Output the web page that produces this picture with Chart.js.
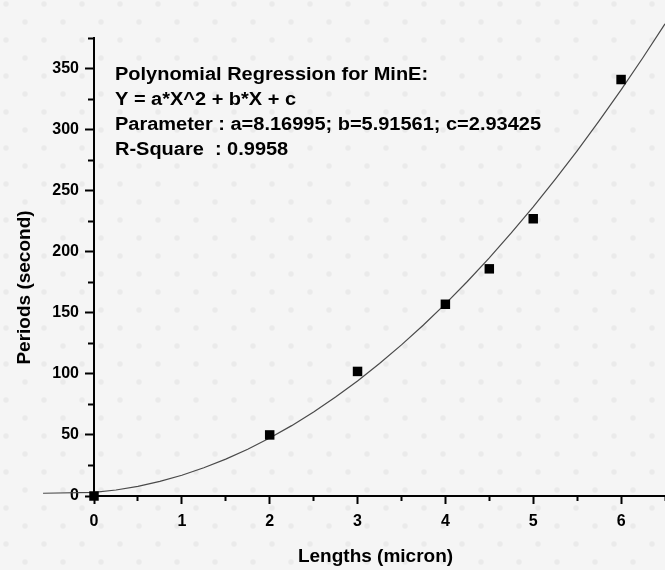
<!DOCTYPE html>
<html>
<head>
<meta charset="utf-8">
<script src="https://cdn.jsdelivr.net/npm/chart.js@4/dist/chart.umd.min.js"></script>
<style>
  html, body { margin: 0; padding: 0; }
  body {
    width: 665px; height: 570px; overflow: hidden;
    background-color: #f5f5f5;
    background-image:
      radial-gradient(circle, rgba(0,0,0,0.045) 2px, rgba(0,0,0,0) 3.5px),
      radial-gradient(circle, rgba(0,0,0,0.045) 2px, rgba(0,0,0,0) 3.5px);
    background-size: 38px 36px, 38px 36px;
    background-position: 6px 4px, 25px 22px;
  }
  #wrap { position: relative; width: 665px; height: 570px; }
</style>
</head>
<body>
<div id="wrap"><canvas id="chart" width="665" height="570"></canvas></div>
<script>
// Measured MinE oscillation periods against cell length
const lengths = [0, 2, 3, 4, 4.5, 5, 6];
const periods = [0, 50, 102, 157, 186, 227, 341];

// Quadratic fit parameters, as printed in the annotation
const fitA = 8.16995;
const fitB = 5.91561;
const fitC = 2.93425;
const rSquare = '0.9958';

// Lengths at which the fitted curve is evaluated
const fitLengths = [-0.58, 0, 0.25, 0.5, 0.75, 1, 1.25, 1.5, 1.75, 2, 2.25, 2.5, 2.75, 3,
  3.25, 3.5, 3.75, 4, 4.25, 4.5, 4.75, 5, 5.25, 5.5, 5.75, 6, 6.25, 6.5];

// Labelled ticks
const xTickLabels = [0, 1, 2, 3, 4, 5, 6];
const yTickLabels = [0, 50, 100, 150, 200, 250, 300, 350];

const annotationLines = [
  'Polynomial Regression for MinE:',
  'Y = a*X^2 + b*X + c',
  'Parameter : a=' + fitA + '; b=' + fitB + '; c=' + fitC,
  'R-Square  : ' + rSquare
];
const xTitle = 'Lengths (micron)';
const yTitle = 'Periods (second)';

const FONT = "'Liberation Sans', Arial, Helvetica, sans-serif";

const measured = lengths.map((x, i) => ({ x: x, y: periods[i] }));
const fitted = fitLengths.map(x => ({ x: x, y: fitA * x * x + fitB * x + fitC }));

// Text layer: regression summary and axis titles
const textLayer = {
  id: 'textLayer',
  afterDraw(chart) {
    const ctx = chart.ctx;
    ctx.save();
    ctx.fillStyle = '#000';
    ctx.textBaseline = 'alphabetic';

    // regression summary block
    ctx.save();
    ctx.translate(115, 0);
    ctx.scale(1.11, 1);
    ctx.font = 'bold 18px ' + FONT;
    ctx.textAlign = 'left';
    const baselines = [79.5, 104.5, 130, 155];
    annotationLines.forEach((t, i) => ctx.fillText(t, 0, baselines[i]));
    ctx.restore();

    // axis titles
    ctx.font = 'bold 19px ' + FONT;
    ctx.textAlign = 'center';
    ctx.fillText(xTitle, 375.5, 561.5);
    ctx.save();
    ctx.translate(29.5, 287.5);
    ctx.rotate(-Math.PI / 2);
    ctx.fillText(yTitle, 0, 0);
    ctx.restore();

    ctx.restore();
  }
};

const tickFont = { family: FONT, size: 16, weight: 'bold' };

new Chart(document.getElementById('chart'), {
  type: 'scatter',
  data: {
    datasets: [
      {
        label: 'MinE',
        data: measured,
        pointStyle: 'rect',
        pointRadius: 6.7,
        pointHoverRadius: 6.7,
        backgroundColor: '#000',
        borderColor: '#000',
        borderWidth: 0,
        clip: false,
        order: 1
      },
      {
        label: 'Polynomial fit',
        data: fitted,
        showLine: true,
        borderColor: '#4a4a4a',
        borderWidth: 1.2,
        pointRadius: 0,
        pointHoverRadius: 0,
        fill: false,
        tension: 0,
        clip: false,
        order: 2
      }
    ]
  },
  options: {
    responsive: false,
    animation: false,
    devicePixelRatio: 1,
    events: [],
    layout: { autoPadding: false, padding: { top: 38, right: 0, bottom: 0, left: 0 } },
    plugins: {
      legend: { display: false },
      tooltip: { enabled: false },
      title: { display: false }
    },
    scales: {
      x: {
        type: 'linear',
        min: 0,
        max: 6.5,
        afterFit(scale) { scale.height = 74; },
        ticks: {
          stepSize: 0.5,
          autoSkip: false,
          maxRotation: 0,
          padding: 0,
          color: '#000',
          font: tickFont,
          callback: v => xTickLabels.includes(v) ? String(v) : ''
        },
        grid: {
          drawOnChartArea: false,
          drawTicks: true,
          // long tick slot pushes labels down; dashes set the visible mark length
          tickLength: 16,
          tickWidth: 2,
          tickColor: '#000',
          tickBorderDash: c => (c.tick && xTickLabels.includes(c.tick.value)) ? [7, 100] : [4, 100]
        },
        border: { display: true, color: '#000', width: 2 }
      },
      y: {
        type: 'linear',
        min: 0,
        max: 375,
        afterFit(scale) { scale.width = 94; },
        ticks: {
          stepSize: 25,
          autoSkip: false,
          padding: 6,
          color: '#000',
          font: tickFont,
          callback: v => yTickLabels.includes(v) ? String(v) : ''
        },
        grid: {
          drawOnChartArea: false,
          drawTicks: true,
          tickLength: 9,
          tickWidth: 2,
          tickColor: '#000',
          tickBorderDash: c => (c.tick && yTickLabels.includes(c.tick.value)) ? [] : [0, 3, 6, 100]
        },
        border: { display: true, color: '#000', width: 2 }
      }
    }
  },
  plugins: [textLayer]
});
</script>
</body>
</html>
